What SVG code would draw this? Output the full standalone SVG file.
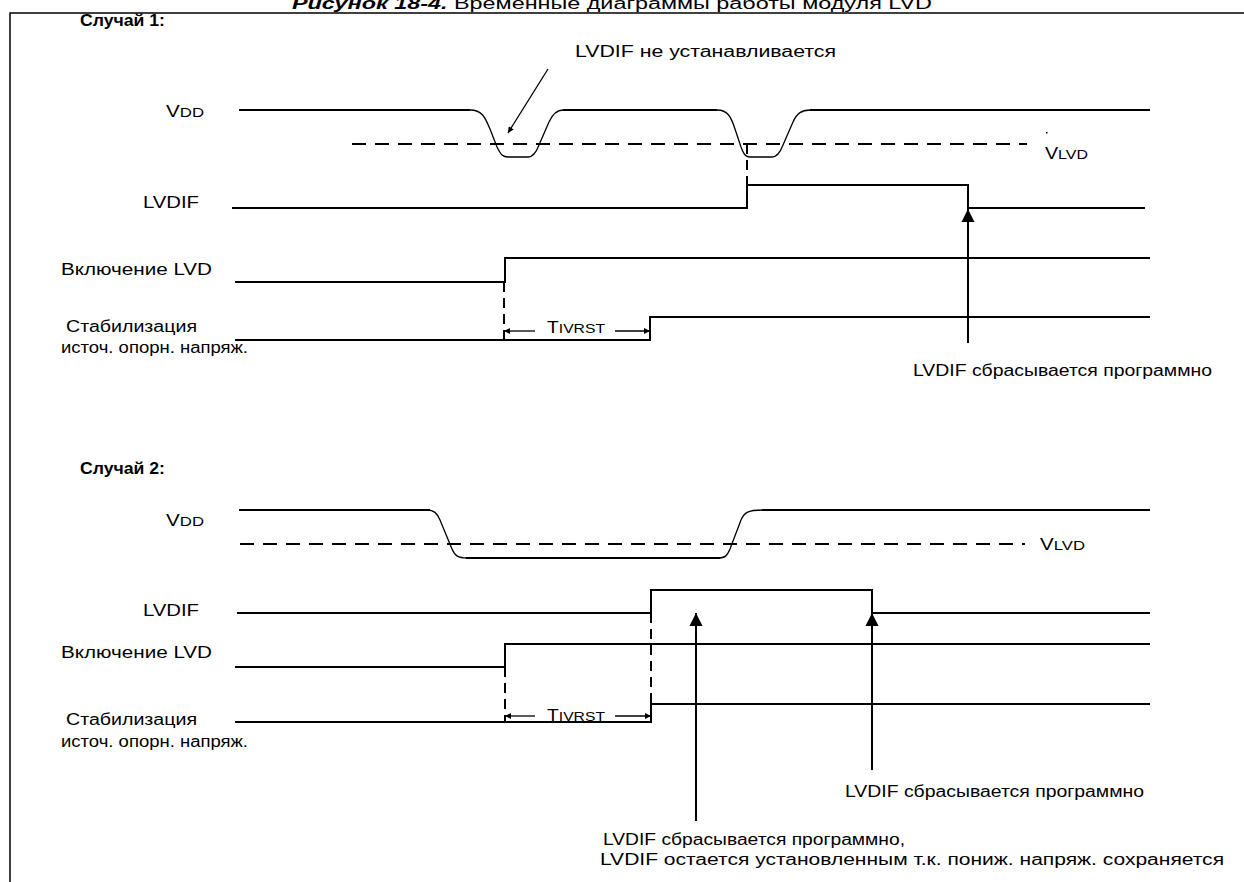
<svg xmlns="http://www.w3.org/2000/svg" width="1244" height="882" viewBox="0 0 1244 882">
<style>
text{font-family:"Liberation Sans",Arial,sans-serif;font-size:16px;fill:#000}
.b{font-weight:bold}
.sm{font-size:13px}
.sig{fill:none;stroke:#000;stroke-width:2}
.crv{fill:none;stroke:#000;stroke-width:1.3}
.dash{fill:none;stroke:#000;stroke-width:2;stroke-dasharray:14 9}
.vd{fill:none;stroke:#000;stroke-width:2;stroke-dasharray:10 6}
.ln{fill:none;stroke:#000;stroke-width:2}
.thin{fill:none;stroke:#000;stroke-width:1.3}
.frame{fill:none;stroke:#000;stroke-width:1.5}
</style>
<defs>
<marker id="ah" viewBox="0 0 10 10" refX="10" refY="5" markerWidth="9" markerHeight="6" orient="auto" markerUnits="userSpaceOnUse"><path d="M0,0 L10,5 L0,10 Z" fill="#000"/></marker>
<marker id="big" viewBox="0 0 10 10" refX="10" refY="5" markerWidth="13" markerHeight="14" orient="auto" markerUnits="userSpaceOnUse"><path d="M0,0 L10,5 L0,10 Z" fill="#000"/></marker>
</defs>

<g id="title">
<text x="292" y="9" font-size="17" textLength="640" lengthAdjust="spacingAndGlyphs"><tspan class="b" font-style="italic">Рисунок 18-4.</tspan> Временные диаграммы работы модуля LVD</text>
</g>
<g id="frame"><path class="frame" d="M1244,13 H10 V882"/></g>

<g id="case1">
<text class="b" x="80" y="26" font-size="14" textLength="85" lengthAdjust="spacingAndGlyphs">Случай 1:</text>
<g id="c1-vdd">
<text x="166" y="117" textLength="38" lengthAdjust="spacingAndGlyphs">V<tspan class="sm">DD</tspan></text>
<path class="sig" d="M239,110 H470 M563,110 H717 M810,110 H1150"/>
<path class="crv" d="M470,110 C482,110 485,117 490,129 L497,147 C501,155 503,157 508,157 H528 C533,157 536,153 539,145 L549,122 C553,113 557,110 563,110"/>
<path class="crv" d="M717,110 C728,110 731,117 735,129 L741,147 C744,155 746,157 750,157 H772 C777,157 780,153 783,145 L793,122 C797,113 802,110 810,110"/>
</g>
<g id="c1-vlvd">
<path class="dash" d="M352,144 H1027"/>
<rect x="1046" y="132" width="1.5" height="1.5" fill="#000"/>
<text x="1045" y="159" textLength="43" lengthAdjust="spacingAndGlyphs">V<tspan class="sm">LVD</tspan></text>
</g>
<g id="c1-lvdif">
<text x="143" y="208" textLength="56" lengthAdjust="spacingAndGlyphs">LVDIF</text>
<path class="sig" d="M232,208 H747 V185 H968 V208 H1145"/>
</g>
<g id="c1-en">
<text x="61" y="275" textLength="151" lengthAdjust="spacingAndGlyphs">Включение LVD</text>
<path class="sig" d="M235,282 H505 V258 H1150"/>
</g>
<g id="c1-stab">
<text x="66" y="332" textLength="131" lengthAdjust="spacingAndGlyphs">Стабилизация</text>
<text x="61" y="353" textLength="187" lengthAdjust="spacingAndGlyphs">источ. опорн. напряж.</text>
<path class="sig" d="M235,340 H650 V317 H1150"/>
<text x="547" y="333" textLength="58" lengthAdjust="spacingAndGlyphs">T<tspan class="sm">IVRST</tspan></text>
</g>
<g id="c1-note1">
<text x="575" y="57" textLength="261" lengthAdjust="spacingAndGlyphs">LVDIF не устанавливается</text>
</g>
<g id="c1-note2">
<text x="913" y="376" textLength="299" lengthAdjust="spacingAndGlyphs">LVDIF сбрасывается программно</text>
</g>
</g>

<g id="case2">
<text class="b" x="80" y="474" font-size="14" textLength="85" lengthAdjust="spacingAndGlyphs">Случай 2:</text>
<g id="c2-vdd">
<text x="166" y="526" textLength="38" lengthAdjust="spacingAndGlyphs">V<tspan class="sm">DD</tspan></text>
<path class="sig" d="M239,510 H430 M466,558 H720 M762,510 H1150"/>
<path class="crv" d="M427,510 C434,510 437,513 440,520 L452,549 C455,556 458,558 467,558"/>
<path class="crv" d="M718,558 C725,558 727,556 730,549 L741,520 C744,513 747,510 763,510"/>
</g>
<g id="c2-vlvd">
<path class="dash" d="M240,544 H1025"/>
<text x="1040" y="550" textLength="45" lengthAdjust="spacingAndGlyphs">V<tspan class="sm">LVD</tspan></text>
</g>
<g id="c2-lvdif">
<text x="143" y="616" textLength="56" lengthAdjust="spacingAndGlyphs">LVDIF</text>
<path class="sig" d="M237,613 H651 V590 H872 V613 H1150"/>
</g>
<g id="c2-en">
<text x="61" y="658" textLength="151" lengthAdjust="spacingAndGlyphs">Включение LVD</text>
<path class="sig" d="M235,667 H505 V644 H1150"/>
</g>
<g id="c2-stab">
<text x="66" y="725" textLength="131" lengthAdjust="spacingAndGlyphs">Стабилизация</text>
<text x="61" y="747" textLength="187" lengthAdjust="spacingAndGlyphs">источ. опорн. напряж.</text>
<path class="sig" d="M235,722 H651 V704 H1150"/>
<text x="547" y="721" textLength="58" lengthAdjust="spacingAndGlyphs">T<tspan class="sm">IVRST</tspan></text>
</g>
<g id="c2-note1">
<text x="845" y="797" textLength="299" lengthAdjust="spacingAndGlyphs">LVDIF сбрасывается программно</text>
</g>
<g id="c2-note2">
<text x="603" y="845" textLength="302" lengthAdjust="spacingAndGlyphs">LVDIF сбрасывается программно,</text>
<text x="600" y="865" textLength="624" lengthAdjust="spacingAndGlyphs">LVDIF остается установленным т.к. пониж. напряж. сохраняется</text>
</g>
</g>

<g id="connectors">
<path class="thin" d="M548,69 L508,133" marker-end="url(#ah)"/>
<path class="vd" d="M747,144 V185"/>
<path class="vd" d="M504,282 V340"/>
<path class="thin" d="M535,331 H504" marker-end="url(#ah)"/>
<path class="thin" d="M615,331 H650" marker-end="url(#ah)"/>
<path class="ln" d="M968,343 V209" marker-end="url(#big)"/>
<path class="vd" d="M505,667 V722"/>
<path class="vd" d="M651,613 V704"/>
<path class="thin" d="M535,716 H505" marker-end="url(#ah)"/>
<path class="thin" d="M615,716 H651" marker-end="url(#ah)"/>
<path class="ln" d="M696,821 V613" marker-end="url(#big)"/>
<path class="ln" d="M872,770 V613" marker-end="url(#big)"/>
</g>
</svg>
